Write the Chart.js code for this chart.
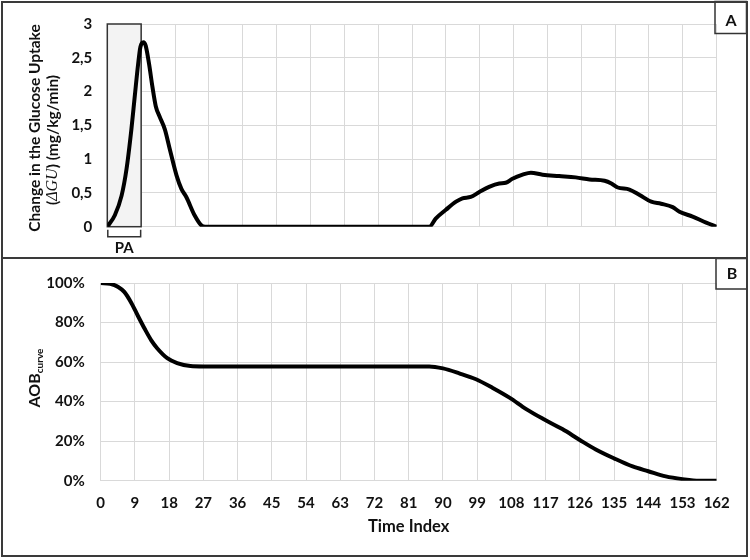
<!DOCTYPE html>
<html>
<head>
<meta charset="utf-8">
<script src="https://cdn.jsdelivr.net/npm/chart.js@4.4.1/dist/chart.umd.min.js"></script>
<style>
  html, body { margin: 0; padding: 0; background: #fff; }
  #fig { position: relative; width: 750px; height: 560px; overflow: hidden; }
  canvas { position: absolute; left: 0; }
  #cA { top: 0; }
  #cB { top: 258px; }
  .frame { position: absolute; border: 2px solid #3a3a3a; box-sizing: border-box; pointer-events: none; }
</style>
</head>
<body>
<div id="fig">
  <canvas id="cA" width="750" height="258"></canvas>
  <canvas id="cB" width="750" height="302"></canvas>
  <div class="frame" style="left:1px;top:1px;width:747px;height:258px"></div>
  <div class="frame" style="left:1px;top:257px;width:747px;height:300px"></div>
</div>
<script>
// panel A: change in glucose uptake vs time index
const aTime   = [0, 2, 3.8, 5.1, 6.4, 7.3, 8.2, 8.8, 9.6, 10.2, 11.1, 12, 12.9, 13.9, 15.3, 16.6, 18.4, 19.7, 21, 23.2, 25.2, 26,
                 85.6, 87.3, 90, 92.7, 94.4, 96.6, 98.8, 101.5, 104.2, 105.9, 107.7, 110.4, 112.6, 115.7, 120.1, 124.5, 128.2,
                 132.2, 134, 135.7, 138.8, 141.5, 144.6, 147.2, 150.3, 152.1, 155.6, 159.2, 162];
const aUptake = [0, 0.17, 0.46, 0.85, 1.44, 1.93, 2.41, 2.66, 2.73, 2.68, 2.41, 2.07, 1.78, 1.63, 1.44, 1.15, 0.76, 0.56, 0.44, 0.17, 0.01, 0,
                 0, 0.12, 0.25, 0.37, 0.42, 0.44, 0.51, 0.59, 0.64, 0.65, 0.71, 0.77, 0.80, 0.77, 0.75, 0.73, 0.70,
                 0.68, 0.64, 0.58, 0.55, 0.47, 0.37, 0.34, 0.29, 0.22, 0.15, 0.06, 0];
const aYLabels = ['0', '0,5', '1', '1,5', '2', '2,5', '3'];
const paRange = [0, 9];

// panel B: AOB curve (%)
const bTime = [0, 2.5, 4.6, 6.2, 8.1, 9.8, 11.6, 13.3, 14.9, 17.5, 20.1, 23.6, 27, 81, 86.4, 90, 94.3, 98.7, 103.1, 107.5,
               111.9, 116.3, 121.4, 126, 130.2, 135, 139.9, 144, 148.6, 153, 157.4, 162];
const bAob  = [100, 99.6, 98, 95.5, 89.8, 83.3, 76.7, 71, 66.9, 62, 59.5, 58.0, 57.8, 57.8, 57.8, 56.8, 54.3, 51.3, 46.9, 42,
               36.2, 31.3, 26.1, 20.6, 15.8, 11.3, 7.2, 4.8, 2.2, 0.8, 0, 0];
const bYLabels = ['0%', '20%', '40%', '60%', '80%', '100%'];
const xLabels = ['0', '9', '18', '27', '36', '45', '54', '63', '72', '81', '90', '99', '108', '117', '126', '135', '144', '153', '162'];

const FONT = 'Lato, "Open Sans", sans-serif';
const INK = '#111', GRID = '#d9d9d9';

// y titles with mixed styles (italic math, subscript)
const richTitle = {
  id: 'richTitle',
  afterDraw(chart, args, opts) {
    const ctx = chart.ctx;
    ctx.save();
    ctx.fillStyle = INK;
    ctx.textBaseline = 'middle';
    opts.lines.forEach(line => {
      let w = 0;
      line.parts.forEach(p => { ctx.font = p.font; w += ctx.measureText(p.text).width; });
      ctx.save();
      ctx.translate(line.x, line.y);
      ctx.rotate(-Math.PI / 2);
      let x = -w / 2;
      line.parts.forEach(p => {
        ctx.font = p.font;
        ctx.fillText(p.text, x, p.dy || 0);
        x += ctx.measureText(p.text).width;
      });
      ctx.restore();
    });
    // panel letter box
    const t = opts.tag;
    ctx.strokeStyle = '#333'; ctx.lineWidth = 1.5;
    ctx.strokeRect(t.box[0], t.box[1], t.box[2], t.box[3]);
    ctx.font = 'bold 16px ' + FONT;
    ctx.textAlign = 'center';
    ctx.fillText(t.text, t.tx, t.ty);
    ctx.restore();
  }
};

// shaded PA window + bracket under it
const paBox = {
  id: 'paBox',
  beforeDatasetsDraw(chart) {
    const { ctx, scales: { x, y } } = chart;
    const x0 = x.getPixelForValue(paRange[0]), x1 = x.getPixelForValue(paRange[1]);
    const yb = y.getPixelForValue(0), yt = y.getPixelForValue(3);
    ctx.save();
    ctx.fillStyle = '#f3f3f3';
    ctx.fillRect(x0, yt, x1 - x0, yb - yt);
    ctx.strokeStyle = '#333'; ctx.lineWidth = 1.5;
    ctx.strokeRect(x0, yt, x1 - x0, yb - yt);
    ctx.beginPath();
    ctx.moveTo(x0 + 0.5, yb + 3); ctx.lineTo(x0 + 0.5, yb + 10);
    ctx.lineTo(x1 - 0.5, yb + 10); ctx.lineTo(x1 - 0.5, yb + 3);
    ctx.stroke();
    ctx.fillStyle = INK;
    ctx.font = 'bold 15px ' + FONT;
    ctx.textAlign = 'center'; ctx.textBaseline = 'middle';
    ctx.fillText('PA', (x0 + x1) / 2, yb + 21);
    ctx.restore();
  }
};

const lineStyle = { borderColor: '#000', borderWidth: 4, pointRadius: 0, fill: false, cubicInterpolationMode: 'monotone' };
const tickFont = { family: FONT, size: 15, weight: 'bold' };

new Chart(document.getElementById('cA'), {
  type: 'line',
  data: { datasets: [{ ...lineStyle, data: aTime.map((t, i) => ({ x: t, y: aUptake[i] })) }] },
  options: {
    responsive: false, animation: false,
    layout: { padding: { left: 0, top: 21.7, right: 33.3, bottom: 31.3 } },
    plugins: {
      legend: { display: false }, tooltip: { enabled: false },
      richTitle: {
        lines: [
          { x: 35, y: 128, parts: [{ text: 'Change in the Glucose Uptake', font: 'bold 15.5px ' + FONT }] },
          { x: 53, y: 140, parts: [
            { text: '(', font: 'bold 15.5px ' + FONT },
            { text: '\u0394GU', font: 'italic 16px "Liberation Serif", serif' },
            { text: ') (mg/kg/min)', font: 'bold 15.5px ' + FONT }
          ] }
        ],
        tag: { text: 'A', box: [715, 1.5, 31.5, 32], tx: 731, ty: 21 }
      }
    },
    scales: {
      x: {
        type: 'linear', min: 0, max: 162,
        ticks: { stepSize: 9, display: false },
        grid: { color: GRID, drawTicks: false }, border: { display: false },
        afterFit: s => { s.height = 0; }
      },
      y: {
        min: 0, max: 3,
        ticks: { stepSize: 0.5, callback: (v, i) => aYLabels[i], font: tickFont, color: INK, padding: 15 },
        grid: { color: GRID, drawTicks: false }, border: { display: false },
        afterFit: s => { s.width = 107.3; }
      }
    }
  },
  plugins: [paBox, richTitle]
});

new Chart(document.getElementById('cB'), {
  type: 'line',
  data: { datasets: [{ ...lineStyle, data: bTime.map((t, i) => ({ x: t, y: bAob[i] })) }] },
  options: {
    responsive: false, animation: false,
    layout: { padding: { left: 0, top: 19, right: 33.3, bottom: 10 } },
    plugins: {
      legend: { display: false }, tooltip: { enabled: false },
      richTitle: {
        lines: [
          { x: 35, y: 120, parts: [
            { text: 'AOB', font: 'bold 16px ' + FONT },
            { text: 'curve', font: 'bold 10px ' + FONT, dy: 5 }
          ] }
        ],
        tag: { text: 'B', box: [716, 0.5, 31, 30.5], tx: 732, ty: 16 }
      }
    },
    scales: {
      x: {
        type: 'linear', min: 0, max: 162,
        ticks: { stepSize: 9, callback: (v, i) => xLabels[i], font: tickFont, color: INK, padding: 13, maxRotation: 0, autoSkip: false },
        grid: { color: GRID, drawTicks: false }, border: { display: false },
        title: { display: true, text: 'Time Index', font: { family: FONT, size: 16.5, weight: 'bold' }, color: INK, padding: { top: 13, bottom: 13 } },
        afterFit: s => { s.height = 69.3; }
      },
      y: {
        min: 0, max: 100,
        ticks: { stepSize: 20, callback: (v, i) => bYLabels[i], font: tickFont, color: INK, padding: 16 },
        grid: { color: GRID, drawTicks: false }, border: { display: false },
        afterFit: s => { s.width = 100.7; }
      }
    }
  },
  plugins: [richTitle]
});
</script>
</body>
</html>
